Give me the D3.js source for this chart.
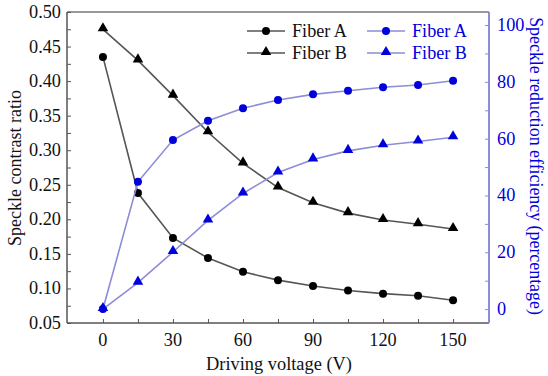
<!DOCTYPE html>
<html>
<head>
<meta charset="utf-8">
<script src="https://cdn.jsdelivr.net/npm/d3@7"></script>
<style>
  body { margin: 0; background: #fff; }
</style>
</head>
<body>
<div id="chart"></div>
<script>
// data
const voltage = [0, 15, 30, 45, 60, 75, 90, 105, 120, 135, 150]
const contrastA = [0.435, 0.238, 0.173, 0.144, 0.124, 0.112, 0.1035, 0.097, 0.0925, 0.0895, 0.083]
const contrastB = [0.475, 0.430, 0.379, 0.326, 0.281, 0.246, 0.224, 0.209, 0.199, 0.193, 0.186]
const efficiencyA = [0, 44.8, 59.5, 66.3, 70.7, 73.6, 75.6, 76.9, 78.1, 78.9, 80.4]
const efficiencyB = [0, 9.3, 20.1, 31.2, 40.7, 48.1, 52.7, 55.7, 57.7, 59.0, 60.5]
const xTicks = [0, 30, 60, 90, 120, 150]
const leftTicks = [0.05, 0.10, 0.15, 0.20, 0.25, 0.30, 0.35, 0.40, 0.45, 0.50]
const rightTicks = [0, 20, 40, 60, 80, 100]

const width = 548
const height = 376
const margin = { top: 12, right: 59, bottom: 53, left: 67 }
const blue = "#0000dd"
const blueLine = "#8c8cd8"
const font = "'Liberation Serif', 'DejaVu Serif', 'Times New Roman', serif"

const svg = d3.select("#chart").append("svg")
    .attr("width", width)
    .attr("height", height)
    .style("font-family", font)

// scale a label's font so its width matches the printed one
const fitSize = (str, target) => {
    const t = svg.append("text").attr("font-size", 17).style("font-family", font).text(str)
    const w = t.node().getComputedTextLength()
    t.remove()
    return w > 0 ? 17 * target / w : 17
}
const tickSize = fitSize("0.50", 32)
const legendSize = fitSize("Fiber A", 55)

const x = d3.scaleLinear().domain([-15.4, 165.4]).range([margin.left, width - margin.right])
const yL = d3.scaleLinear().domain([0.05, 0.50]).range([height - margin.bottom, margin.top])
const yR = d3.scaleLinear().domain([-4.9, 104.6]).range([height - margin.bottom, margin.top])

const x0 = margin.left, x1 = width - margin.right
const y0 = height - margin.bottom, y1 = margin.top

// frame (top edge)
svg.append("line").attr("x1", x0).attr("x2", x1).attr("y1", y1).attr("y2", y1)
    .attr("stroke", "#777").attr("stroke-width", 1.5)

// bottom axis
const gx = svg.append("g").attr("transform", `translate(0,${y0})`)
    .call(d3.axisBottom(x).tickValues(d3.range(0, 151, 15)).tickSize(-4).tickFormat(""))
gx.select(".domain").remove()
gx.selectAll("line").attr("stroke", "#555")
svg.append("line").attr("x1", x0).attr("x2", x1).attr("y1", y0).attr("y2", y0)
    .attr("stroke", "#555").attr("stroke-width", 1.5)
svg.append("g").selectAll("text").data(xTicks).join("text")
    .attr("x", d => x(d)).attr("y", y0 + 23)
    .attr("text-anchor", "middle").attr("font-size", tickSize).attr("fill", "#111")
    .style("font-family", font)
    .text(d => d)

// left axis
const gl = svg.append("g").attr("transform", `translate(${x0},0)`)
    .call(d3.axisLeft(yL).tickValues(d3.range(0.05, 0.501, 0.025)).tickSize(-4).tickFormat(""))
gl.select(".domain").remove()
gl.selectAll("line").attr("stroke", "#555")
svg.append("line").attr("x1", x0).attr("x2", x0).attr("y1", y1).attr("y2", y0)
    .attr("stroke", "#555").attr("stroke-width", 1.5)
svg.append("g").selectAll("text").data(leftTicks).join("text")
    .attr("x", x0 - 6).attr("y", d => yL(d) + 6)
    .attr("text-anchor", "end").attr("font-size", tickSize).attr("fill", "#111")
    .style("font-family", font)
    .text(d => d.toFixed(2))

// right axis
const gr = svg.append("g").attr("transform", `translate(${x1},0)`)
    .call(d3.axisRight(yR).tickValues(d3.range(0, 101, 10)).tickSize(-4).tickFormat(""))
gr.select(".domain").remove()
gr.selectAll("line").attr("stroke", blueLine)
svg.append("line").attr("x1", x1).attr("x2", x1).attr("y1", y1).attr("y2", y0)
    .attr("stroke", blueLine).attr("stroke-width", 2)
svg.append("g").selectAll("text").data(rightTicks).join("text")
    .attr("x", x1 + 8).attr("y", d => yR(d) + 6)
    .attr("text-anchor", "start").attr("font-size", tickSize).attr("fill", blue)
    .style("font-family", font)
    .text(d => d)

// axis titles
const leftTitle = "Speckle contrast ratio"
const rightTitle = "Speckle reduction efficiency (percentage)"
const bottomTitle = "Driving voltage (V)"
svg.append("text")
    .attr("transform", `translate(21,168) rotate(-90)`)
    .attr("text-anchor", "middle").attr("font-size", fitSize(leftTitle, 156)).attr("fill", "#111")
    .style("font-family", font)
    .text(leftTitle)
svg.append("text")
    .attr("transform", `translate(530,166) rotate(90)`)
    .attr("text-anchor", "middle").attr("font-size", fitSize(rightTitle, 298)).attr("fill", blue)
    .style("font-family", font)
    .text(rightTitle)
svg.append("text")
    .attr("x", 279).attr("y", 370)
    .attr("text-anchor", "middle").attr("font-size", fitSize(bottomTitle, 146)).attr("fill", "#111")
    .style("font-family", font)
    .text(bottomTitle)

const triangle = d3.symbol().type(d3.symbolTriangle).size(48)

const series = [
    { values: contrastA, y: yL, line: "#555", fill: "#000", shape: "circle" },
    { values: contrastB, y: yL, line: "#555", fill: "#000", shape: "triangle" },
    { values: efficiencyA, y: yR, line: blueLine, fill: blue, shape: "circle" },
    { values: efficiencyB, y: yR, line: blueLine, fill: blue, shape: "triangle" }
]

series.forEach(s => {
    const pts = voltage.map((v, i) => [v, s.values[i]])
    svg.append("path")
        .attr("d", d3.line().x(d => x(d[0])).y(d => s.y(d[1]))(pts))
        .attr("fill", "none").attr("stroke", s.line).attr("stroke-width", 1.6)
    if (s.shape === "circle") {
        svg.append("g").selectAll("circle").data(pts).join("circle")
            .attr("cx", d => x(d[0])).attr("cy", d => s.y(d[1])).attr("r", 4)
            .attr("fill", s.fill)
    } else {
        svg.append("g").selectAll("path").data(pts).join("path")
            .attr("d", triangle)
            .attr("transform", d => `translate(${x(d[0])},${s.y(d[1]) - 1})`)
            .attr("fill", s.fill)
    }
})

// legend
const legend = [
    { label: "Fiber A", lx: 247, y: 31, line: "#555", fill: "#000", color: "#111", shape: "circle" },
    { label: "Fiber B", lx: 247, y: 53, line: "#555", fill: "#000", color: "#111", shape: "triangle" },
    { label: "Fiber A", lx: 367, y: 31, line: blueLine, fill: blue, color: blue, shape: "circle" },
    { label: "Fiber B", lx: 367, y: 53, line: blueLine, fill: blue, color: blue, shape: "triangle" }
]
legend.forEach(l => {
    svg.append("line").attr("x1", l.lx).attr("x2", l.lx + 38).attr("y1", l.y).attr("y2", l.y)
        .attr("stroke", l.line).attr("stroke-width", 1.6)
    if (l.shape === "circle") {
        svg.append("circle").attr("cx", l.lx + 19).attr("cy", l.y).attr("r", 4).attr("fill", l.fill)
    } else {
        svg.append("path").attr("d", triangle).attr("transform", `translate(${l.lx + 19},${l.y - 1})`).attr("fill", l.fill)
    }
    svg.append("text").attr("x", l.lx + 45).attr("y", l.y + 6)
        .attr("font-size", legendSize).attr("fill", l.color)
        .style("font-family", font)
        .text(l.label)
})
</script>
</body>
</html>
